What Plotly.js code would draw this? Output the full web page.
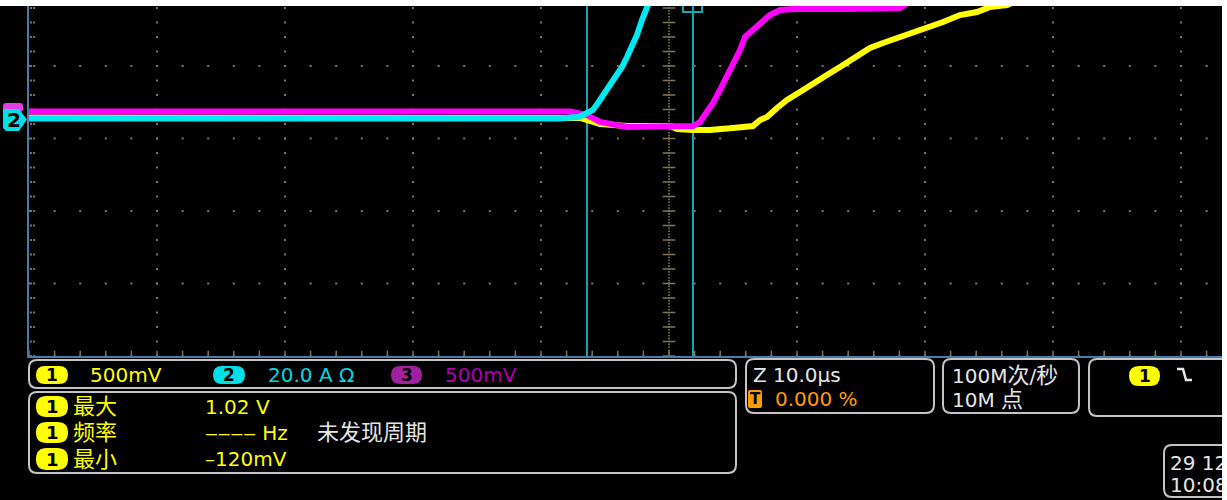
<!DOCTYPE html>
<html>
<head>
<meta charset="utf-8">
<script src="https://cdn.plot.ly/plotly-3.0.1.min.js"></script>
<style>
html,body{margin:0;padding:0;background:#fff;width:1227px;height:500px;overflow:hidden;}
#plot{position:absolute;left:0;top:6px;width:1222px;height:494px;}
</style>
</head>
<body>
<div id="plot"></div>
<script>
// ---- Data (time in µs, amplitude in screen divisions) ----
const ch1Time = [-50, -6.95, -5.39, -3.28, 0.08, 0.63, 1.875, 3.20, 5.0, 6.56, 7.11, 7.66, 8.44, 9.22, 10.23, 11.25, 12.34, 13.36, 14.38, 15.70, 16.72, 18.05, 19.38, 20.16, 21.41, 22.73, 24.06, 25.08, 26.41, 28.20];
const ch1Div  = [-0.71, -0.717, -0.80, -0.828, -0.828, -0.869, -0.883, -0.883, -0.855, -0.828, -0.745, -0.703, -0.579, -0.469, -0.359, -0.234, -0.124, -0.014, 0.110, 0.248, 0.317, 0.40, 0.469, 0.524, 0.607, 0.703, 0.745, 0.814, 0.841, 0.979];

const ch2Time = [-50, -8.5, -7.0, -6.41, -5.94, -5.55, -4.84, -4.38, -3.67, -3.28, -2.89, -2.5, -2.11, -1.72, -1.33];
const ch2Div  = [-0.724, -0.724, -0.70, -0.648, -0.607, -0.51, -0.331, -0.193, -0.014, 0.124, 0.262, 0.428, 0.634, 0.814, 0.979];

const ch3Time = [-50, -7.73, -6.41, -5.39, -3.28, 0.08, 1.875, 2.42, 2.97, 3.44, 3.98, 4.53, 5.0, 5.55, 5.94, 6.56, 7.11, 7.89, 8.67, 9.69, 14.14, 18.05, 19.61];
const ch3Div  = [-0.628, -0.628, -0.676, -0.772, -0.841, -0.841, -0.828, -0.772, -0.648, -0.51, -0.331, -0.152, 0.041, 0.221, 0.40, 0.497, 0.593, 0.703, 0.772, 0.786, 0.786, 0.80, 0.979];

const cursorTimes = [-6.41, 1.875];

const ch1Label = "500mV";
const ch2Label = "20.0 A \u03A9";
const ch3Label = "500mV";
const measNames  = ["最大", "频率", "最小"];
const measValues = ["1.02 V", "\u2012\u2012\u2012\u2012 Hz", "\u2013120mV"];
const measNote   = "未发现周期";
const zoomLabel  = "Z 10.0\u00B5s";
const trigPos    = "0.000 %";
const sampleRate = "100M<span style=\"font-size:22px\">次</span>/<span style=\"font-size:22px\">秒</span>";
const recordLen  = "10M <span style=\"font-size:22px\">点</span>";
const dateText   = "29 12";
const timeText   = "10:08";

// ---- helpers (page pixel -> paper) ----
const PX0 = 29, PX1 = 1222, PY0 = 6, PY1 = 356;
const X = x => (x - PX0) / (PX1 - PX0);
const Y = y => (PY1 - y) / (PY1 - PY0);
function rr(x0, y0, x1, y1, r) {
  return `M${X(x0+r)},${Y(y0)} L${X(x1-r)},${Y(y0)} Q${X(x1)},${Y(y0)} ${X(x1)},${Y(y0+r)} ` +
         `L${X(x1)},${Y(y1-r)} Q${X(x1)},${Y(y1)} ${X(x1-r)},${Y(y1)} L${X(x0+r)},${Y(y1)} ` +
         `Q${X(x0)},${Y(y1)} ${X(x0)},${Y(y1-r)} L${X(x0)},${Y(y0+r)} Q${X(x0)},${Y(y0)} ${X(x0+r)},${Y(y0)} Z`;
}
function poly(pts) {
  return pts.map((p, i) => (i ? 'L' : 'M') + X(p[0]) + ',' + Y(p[1])).join(' ') + ' Z';
}

// ---- graticule (computed in axis units) ----
const gridCol = 'rgb(128,118,84)';
const gx = [], gy = [];
for (let k = -4; k <= 4; k++) { if (k === 0) continue; for (let j = 0; j <= 24; j++) { gx.push(k * 10); gy.push(-4 + 0.2 * j); } }
for (let r = -4; r <= 0; r++) { for (let i = 0; i <= 46; i++) { gx.push(-50 + 2 * i); gy.push(r); } }
for (let j = 0; j <= 24; j++) { gx.push(-49.85, -49.6); gy.push(-4 + 0.2 * j, -4 + 0.2 * j); }
const cx = [], cy = [];
for (let j = 0; j <= 120; j++) { cx.push(0); cy.push(-4 + 0.04 * j); }
const crx = [], cry = [];
for (let j = 0; j <= 24; j++) { crx.push(0); cry.push(-4 + 0.2 * j); }
const btx = [], bty = [];
for (let i = 0; i <= 46; i++) { btx.push(-50 + 2 * i); bty.push(-3.975); }

const traces = [
  {x: gx, y: gy, mode: 'markers', marker: {symbol: 'square', size: 2, color: gridCol}, hoverinfo: 'skip'},
  {x: cx, y: cy, mode: 'markers', marker: {symbol: 'square', size: 1.6, color: gridCol}, hoverinfo: 'skip'},
  {x: crx, y: cry, mode: 'markers', marker: {symbol: 'line-ew', size: 9, line: {color: gridCol, width: 1.5}}, hoverinfo: 'skip'},
  {x: btx, y: bty, mode: 'markers', marker: {symbol: 'line-ns', size: 5, line: {color: gridCol, width: 1.5}}, hoverinfo: 'skip'},
  {x: ch1Time, y: ch1Div, mode: 'lines', line: {color: '#ffff00', width: 6}, hoverinfo: 'skip'},
  {x: ch3Time, y: ch3Div, mode: 'lines', line: {color: '#ff00ff', width: 6}, hoverinfo: 'skip'},
  {x: ch2Time, y: ch2Div, mode: 'lines', line: {color: '#00e8f0', width: 6}, hoverinfo: 'skip'}
];

const boxLine = {color: '#c4c4c4', width: 2};
const shapes = [];
cursorTimes.forEach(t => shapes.push({type: 'line', xref: 'x', yref: 'paper', x0: t, x1: t, y0: 0, y1: 1, line: {color: '#17a6b4', width: 2}, layer: 'below'}));
shapes.push({type: 'path', xref: 'x', yref: 'y', path: `M1.09,0.95 L1.09,0.745 L2.58,0.745 L2.58,0.95`, line: {color: '#17a6b4', width: 2}});
// channel markers at left
shapes.push({type: 'path', xref: 'paper', yref: 'paper', path: rr(3, 103, 23, 112, 3), fillcolor: '#e040e0', line: {width: 0}, layer: 'above'});
shapes.push({type: 'path', xref: 'paper', yref: 'paper', path: poly([[3,109],[19,109],[27,119.5],[19,131],[6,131],[3,128]]), fillcolor: '#00e0e8', line: {width: 0}, layer: 'above'});
// readout boxes
[[29,360,736,388],[29,392,736,473],[746,359,934,413],[943,359,1079,413],[1089,359,1260,416],[1164,445,1260,497]].forEach(b =>
  shapes.push({type: 'path', xref: 'paper', yref: 'paper', path: rr(b[0], b[1], b[2], b[3], 8), fillcolor: '#000', line: boxLine, layer: 'above'}));
// badges
function pill(x0, y0, x1, y1, col) { shapes.push({type: 'path', xref: 'paper', yref: 'paper', path: rr(x0, y0, x1, y1, (y1 - y0) / 2), fillcolor: col, line: {width: 0}, layer: 'above'}); }
pill(36, 366, 68, 384, '#ffff00');
pill(213, 366, 245, 384, '#00e0e8');
pill(391, 366, 422, 384, '#a020a0');
pill(36, 396, 68, 417, '#ffff00');
pill(36, 422, 68, 443, '#ffff00');
pill(36, 448, 68, 470, '#ffff00');
pill(1129, 366, 1160, 386, '#ffff00');
shapes.push({type: 'path', xref: 'paper', yref: 'paper', path: rr(748, 390, 762, 408, 2), fillcolor: '#ff9a00', line: {width: 0}, layer: 'above'});
// falling edge trigger symbol
shapes.push({type: 'path', xref: 'paper', yref: 'paper', path: `M${X(1177)},${Y(369)} L${X(1183)},${Y(369)} L${X(1186)},${Y(380)} L${X(1192)},${Y(380)}`, line: {color: '#e6e6e6', width: 2.5}, layer: 'above'});

const FF = '"DejaVu Sans", "Noto Sans CJK SC", sans-serif';
const ann = [];
function T(x, y, text, color, size, anchor, extra) {
  ann.push(Object.assign({xref: 'paper', yref: 'paper', x: X(x), y: Y(y), text: text, showarrow: false,
    xanchor: anchor || 'left', yanchor: 'middle', font: {family: FF, size: size, color: color}}, extra || {}));
}
T(14, 120, '<b>2</b>', '#000', 20, 'center');
T(52, 375, '<b>1</b>', '#000', 17, 'center');
T(229, 375, '<b>2</b>', '#000', 17, 'center');
T(406.5, 375, '<b>3</b>', '#000', 17, 'center');
T(88, 375, ch1Label, '#ffff00', 20);
T(266, 375, ch2Label, '#00d8e0', 20);
T(443, 375, ch3Label, '#b000b0', 20);
const rowsY = [406.5, 432.5, 459];
rowsY.forEach((yy, i) => {
  T(52, yy, '<b>1</b>', '#000', 18, 'center');
  T(71, yy, measNames[i], '#ffff00', 22);
  T(203, yy, measValues[i], '#ffff00', 20);
});
T(315, 432.5, measNote, '#e6e6e6', 22);
T(751, 375, zoomLabel, '#e6e6e6', 20);
T(755, 399, '<b>T</b>', '#000', 15, 'center');
T(773, 399, trigPos, '#ff9a00', 20);
T(950, 375, sampleRate, '#e6e6e6', 20);
T(950, 399, recordLen, '#e6e6e6', 20);
T(1144.5, 376, '<b>1</b>', '#000', 17, 'center');
T(1168, 463, dateText, '#e6e6e6', 20);
T(1168, 485, timeText, '#e6e6e6', 20);

const layout = {
  width: 1222, height: 494,
  margin: {l: 29, r: 0, t: 0, b: 144, pad: 0},
  paper_bgcolor: '#000', plot_bgcolor: '#000',
  showlegend: false,
  xaxis: {range: [-50, 43.203], showgrid: false, zeroline: false, showticklabels: false, ticks: '',
          showline: true, linecolor: '#4a7aac', linewidth: 2, fixedrange: true},
  yaxis: {range: [-4, 0.8276], showgrid: false, zeroline: false, showticklabels: false, ticks: '',
          showline: true, linecolor: '#4a7aac', linewidth: 2, fixedrange: true},
  shapes: shapes,
  annotations: ann
};
Plotly.newPlot('plot', traces, layout, {displayModeBar: false, staticPlot: true});
</script>
</body>
</html>
